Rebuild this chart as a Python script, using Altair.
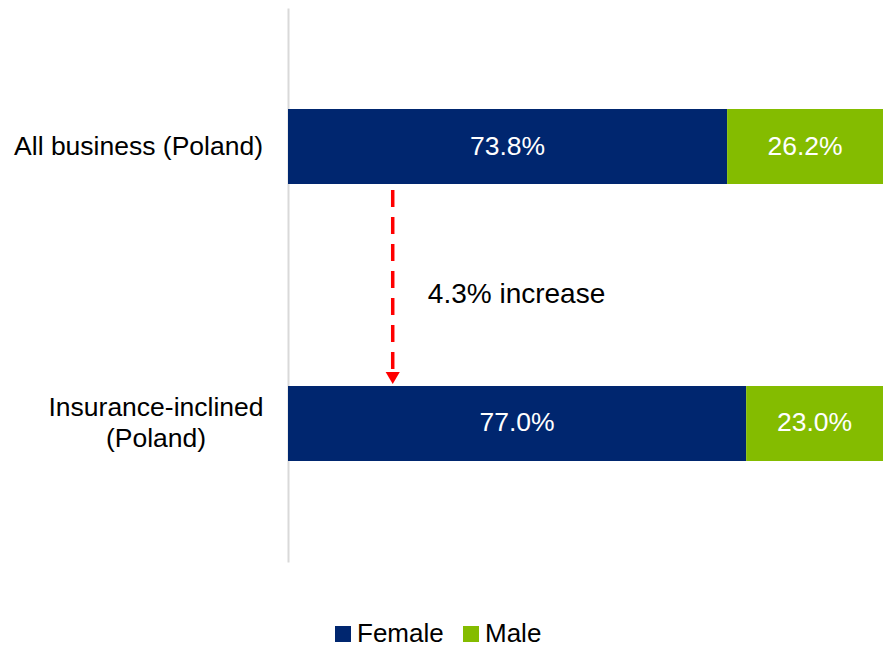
import altair as alt
import pandas as pd

# Share of business owners by gender
categories = ["All business (Poland)", "Insurance-inclined (Poland)"]
category_lines = ["All business (Poland)", "Insurance-inclined|(Poland)"]
female = [73.8, 77.0]
male = [26.2, 23.0]
genders = ["Female", "Male"]
colors = ["#00266F", "#84BC00"]

change_label = "4.3% increase"
arrow_x = 17.6      # horizontal position of the arrow, in percent
note_x = 23.5       # left edge of the note, in percent

rows = []
for i, c in enumerate(categories):
    rows.append({"category": c, "gender": "Female", "value": female[i], "order": 0})
    rows.append({"category": c, "gender": "Male", "value": male[i], "order": 1})
df = pd.DataFrame(rows)

font = "Liberation Sans"

x_scale = alt.Scale(domain=[0, 100], nice=False, zero=True)
y_scale = alt.Scale(domain=categories, paddingInner=0.729, paddingOuter=0.365)

base = alt.Chart(df)

bars = base.mark_bar().encode(
    y=alt.Y(
        "category:N",
        scale=y_scale,
        sort=categories,
        title=None,
        axis=alt.Axis(
            domain=True,
            domainColor="#d9d9d9",
            domainWidth=2,
            ticks=False,
            grid=False,
            labels=False,
        ),
    ),
    x=alt.X("value:Q", stack="zero", scale=x_scale, axis=None),
    color=alt.Color(
        "gender:N",
        scale=alt.Scale(domain=genders, range=colors),
        legend=alt.Legend(
            title=None,
            orient="none",
            direction="horizontal",
            legendX=42,
            legendY=613,
            symbolType="square",
            symbolSize=256,
            symbolStrokeWidth=0,
            labelFont=font,
            labelFontSize=26,
            labelColor="#000000",
            labelOffset=1,
            columnPadding=14,
        ),
    ),
    order=alt.Order("order:Q"),
)

values = base.transform_stack(
    stack="value", groupby=["category"], as_=["v0", "v1"], sort=[alt.SortField("order")]
).transform_calculate(
    mid="(datum.v0 + datum.v1) / 2",
    txt="format(datum.value, '.1f') + '%'",
).mark_text(font=font, fontSize=26.5, color="white", baseline="middle", align="center").encode(
    y=alt.Y("category:N", scale=y_scale, sort=categories),
    x=alt.X("mid:Q", scale=x_scale),
    text="txt:N",
)

# Category labels: single-line label right-aligned, two-line label centred as a block
labels = pd.DataFrame({"category": categories, "text": category_lines})

label_single = alt.Chart(labels).transform_filter(
    alt.datum.category == categories[0]
).mark_text(
    font=font, fontSize=26.5, color="#000000", align="right", baseline="middle"
).encode(
    y=alt.Y("category:N", scale=y_scale, sort=categories),
    x=alt.value(-25),
    text="text:N",
)

label_double = alt.Chart(labels).transform_filter(
    alt.datum.category == categories[1]
).mark_text(
    font=font, fontSize=26.5, color="#000000", align="center", baseline="middle",
    lineBreak="|", lineHeight=31, dy=-15.5,
).encode(
    y=alt.Y("category:N", scale=y_scale, sort=categories),
    x=alt.value(-132),
    text="text:N",
)

ann = pd.DataFrame({"x": [arrow_x], "nx": [note_x], "label": [change_label]})

arrow_line = alt.Chart(ann).mark_rule(color="#FF0000", strokeWidth=3.5, strokeDash=[17, 10]).encode(
    x=alt.X("x:Q", scale=x_scale),
    y=alt.value(182),
    y2=alt.value(366),
)

arrow_head = alt.Chart(ann).mark_point(
    shape="triangle-down", filled=True, color="#FF0000", size=200, opacity=1
).encode(
    x=alt.X("x:Q", scale=x_scale),
    y=alt.value(370),
)

note = alt.Chart(ann).mark_text(
    font=font, fontSize=28, color="#000000", align="left", baseline="middle"
).encode(
    x=alt.X("nx:Q", scale=x_scale),
    y=alt.value(287),
    text="label:N",
)

chart = (
    alt.layer(bars, values, label_single, label_double, arrow_line, arrow_head, note)
    .properties(
        width=595,
        height=554,
        background="white",
        autosize=alt.AutoSizeParams(type="none"),
        padding={"left": 288, "top": 8, "right": 4, "bottom": 85},
    )
    .configure_view(strokeWidth=0, stroke=None)
)

chart.save("out.html", embed_options={"renderer": "svg", "actions": False})
